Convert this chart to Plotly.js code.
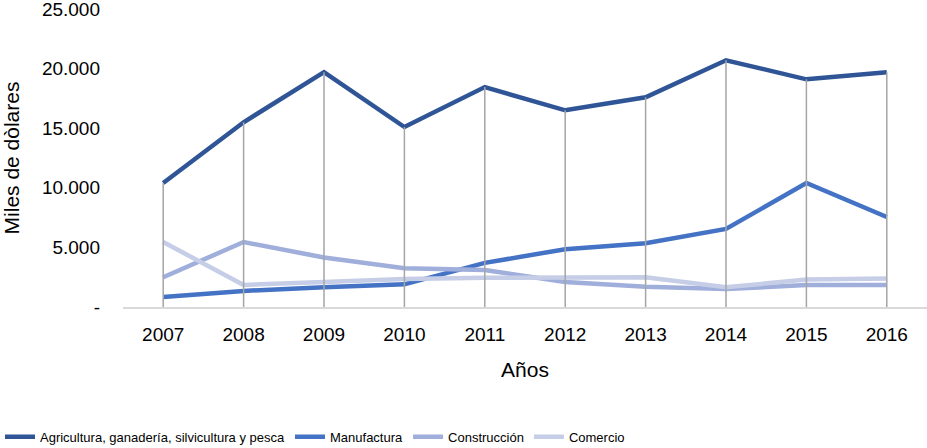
<!DOCTYPE html>
<html>
<head>
<meta charset="utf-8">
<script src="https://cdn.plot.ly/plotly-3.0.1.min.js"></script>
<style>
  html, body { margin: 0; padding: 0; background: #fff; }
  #plotArea { width: 927px; height: 448px; }
</style>
</head>
<body>
<div id="plotArea"></div>
<script>
// Years on the x axis
var years = ["2007", "2008", "2009", "2010", "2011", "2012", "2013", "2014", "2015", "2016"];

// Series (miles de dólares)
var agricultura = [10400, 15500, 19700, 15100, 18450, 16500, 17600, 20700, 19100, 19700];
var manufactura = [840, 1350, 1650, 1900, 3700, 4850, 5350, 6550, 10400, 7550];
var construccion = [2500, 5450, 4150, 3250, 3100, 2100, 1700, 1500, 1850, 1850];
var comercio = [5450, 1850, 2100, 2350, 2450, 2500, 2500, 1650, 2300, 2400];

var seriesNames = ["Agricultura, ganadería, silvicultura y pesca", "Manufactura", "Construcción", "Comercio"];
var seriesColors = ["#2F5597", "#4472C4", "#9FAEDA", "#C5CDE7"];

var yTickVals = [0, 5000, 10000, 15000, 20000, 25000];
var yTickText = ["-", "5.000", "10.000", "15.000", "20.000", "25.000"];

var allSeries = [agricultura, manufactura, construccion, comercio];

var traces = allSeries.map(function(vals, i) {
    return {
        x: years,
        y: vals,
        name: seriesNames[i],
        mode: "lines",
        type: "scatter",
        line: {color: seriesColors[i], width: 4.5},
        hoverinfo: "skip"
    };
});

// drop lines: from the axis up to the highest point of each year
var dropX = [];
var dropY = [];
years.forEach(function(yr, j) {
    var top = Math.max.apply(null, allSeries.map(function(s) { return s[j]; }));
    dropX.push(yr, yr, null);
    dropY.push(0, top, null);
});
traces.push({
    x: dropX,
    y: dropY,
    mode: "lines",
    type: "scatter",
    showlegend: false,
    hoverinfo: "skip",
    line: {color: "#A5A5A5", width: 1.5}
});

var layout = {
    width: 927,
    height: 448,
    margin: {l: 123, r: 0, t: 9, b: 141},
    paper_bgcolor: "#ffffff",
    plot_bgcolor: "#ffffff",
    font: {family: "Liberation Sans, Arial, sans-serif", color: "#000000"},
    showlegend: true,
    legend: {
        orientation: "h",
        xref: "container",
        yref: "container",
        x: 0,
        xanchor: "left",
        y: 0.025,
        yanchor: "middle",
        font: {family: "Liberation Sans Narrow, Liberation Sans, sans-serif", size: 13, color: "#000"},
        itemwidth: 30,
        tracegroupgap: 0
    },
    xaxis: {
        type: "category",
        range: [-0.5, 9.5],
        automargin: false,
        showgrid: false,
        zeroline: false,
        showline: true,
        linecolor: "#D9D9D9",
        linewidth: 1.5,
        ticks: "",
        tickfont: {size: 19},
        ticklabelstandoff: 10,
        title: {text: "Años", font: {size: 21}, standoff: 18}
    },
    yaxis: {
        range: [0, 25000],
        automargin: false,
        tickvals: yTickVals,
        ticktext: yTickText,
        ticklabeloverflow: "allow",
        showgrid: false,
        zeroline: false,
        showline: false,
        ticks: "",
        tickfont: {size: 19},
        ticklabelstandoff: 22,
        title: {text: "Miles de dòlares", font: {size: 21}, standoff: 17}
    }
};

Plotly.newPlot("plotArea", traces, layout, {displayModeBar: false, staticPlot: true});
</script>
</body>
</html>
